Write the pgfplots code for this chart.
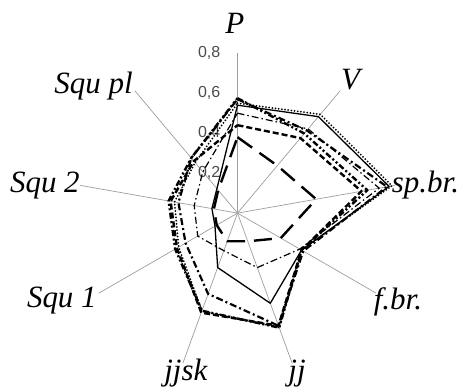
\documentclass[border=0pt]{standalone}
\usepackage{fontspec}
\setmainfont{Liberation Serif}
\newfontfamily\tickfont{Liberation Sans}
\usepackage{pgfplots}
\pgfplotsset{compat=1.18}

\begin{document}
\begin{tikzpicture}
\begin{axis}[
    x=200pt, y=200pt,
    xmin=-1.1885, xmax=1.1065, ymin=-0.8835, ymax=1.0665,
    hide axis, clip=false,
    every axis plot/.append style={data cs=polar, line join=round},
]
% keep the whole axis area as the picture
\draw[draw=none] (rel axis cs:0,0) rectangle (rel axis cs:1,1);

% spokes
\pgfplotsinvokeforeach{90,50,10,-30,-70,-110,-150,170,130}{
  \addplot[black!38, line width=0.7pt] coordinates {(#1,0) (#1,0.8)};
}

% tick labels along P
\tikzset{ticklab/.style={anchor=east, inner sep=0pt, text=black!70, font=\tickfont\fontsize{16}{19}\selectfont}}
\node[ticklab] at (axis cs:-0.085,0.8) {0,8};
\node[ticklab] at (axis cs:-0.085,0.6) {0,6};
\node[ticklab] at (axis cs:-0.085,0.4) {0,4};
\node[ticklab] at (axis cs:-0.085,0.2) {0,2};

% order: P, V, sp.br., f.br., jj, jjsk, Squ 1, Squ 2, Squ pl, P
% solid thin
\addplot[black, line width=1.3pt] coordinates {
  (90,0.54) (50,0.63) (10,0.77) (-30,0.37) (-70,0.48) (-110,0.29) (-150,0.13) (-190,0.13) (-230,0.16) (-270,0.54)};
% long dash, heavy
\addplot[black, line width=2.4pt, dash pattern=on 18pt off 9pt] coordinates {
  (90,0.38) (50,0.31) (10,0.40) (-30,0.25) (-70,0.15) (-110,0.15) (-150,0.12) (-190,0.12) (-230,0.15) (-270,0.38)};
% dash dot, thin
\addplot[black, line width=1.2pt, dash pattern=on 7pt off 3pt on 1.5pt off 3pt] coordinates {
  (90,0.50) (50,0.55) (10,0.72) (-30,0.36) (-70,0.29) (-110,0.20) (-150,0.23) (-190,0.22) (-230,0.27) (-270,0.50)};
% dotted
\addplot[black, line width=2pt, line cap=round, dash pattern=on 0pt off 3.2pt] coordinates {
  (90,0.55) (50,0.645) (10,0.785) (-30,0.37) (-70,0.61) (-110,0.52) (-150,0.34) (-190,0.32) (-230,0.33) (-270,0.55)};
% dash dot, heavy
\addplot[black, line width=2.2pt, dash pattern=on 7pt off 3pt on 2pt off 3pt] coordinates {
  (90,0.57) (50,0.54) (10,0.76) (-30,0.38) (-70,0.60) (-110,0.43) (-150,0.30) (-190,0.30) (-230,0.36) (-270,0.57)};
% short dash, heavy
\addplot[black, line width=2.4pt, dash pattern=on 6pt off 3pt] coordinates {
  (90,0.44) (50,0.49) (10,0.63) (-30,0.37) (-70,0.60) (-110,0.53) (-150,0.35) (-190,0.34) (-230,0.34) (-270,0.44)};
% dash dot dot, heavy
\addplot[black, line width=2.4pt, dash pattern=on 6pt off 2.5pt on 2pt off 2.5pt on 2pt off 2.5pt] coordinates {
  (90,0.575) (50,0.52) (10,0.66) (-30,0.37) (-70,0.61) (-110,0.52) (-150,0.36) (-190,0.35) (-230,0.36) (-270,0.575)};

% category labels
\tikzset{catlab/.style={inner sep=0pt, font=\fontsize{31}{37}\selectfont\itshape}}
\node[catlab, anchor=base] at (axis cs:-0.0135,0.90) {P};
\node[catlab, anchor=base] at (axis cs:0.5665,0.62) {V};
\node[catlab, anchor=base west] at (axis cs:0.7715,0.1015) {sp.br.};
\node[catlab, anchor=base west] at (axis cs:0.6815,-0.4835) {f.br.};
\node[catlab, anchor=base] at (axis cs:0.298,-0.839) {jj};
\node[catlab, anchor=base] at (axis cs:-0.2585,-0.839) {jjsk};
\node[catlab, anchor=base east] at (axis cs:-0.7035,-0.4735) {Squ 1};
\node[catlab, anchor=base east] at (axis cs:-0.7885,0.1015) {Squ 2};
\node[catlab, anchor=base east] at (axis cs:-0.5235,0.601) {Squ pl};
\end{axis}
\end{tikzpicture}
\end{document}
